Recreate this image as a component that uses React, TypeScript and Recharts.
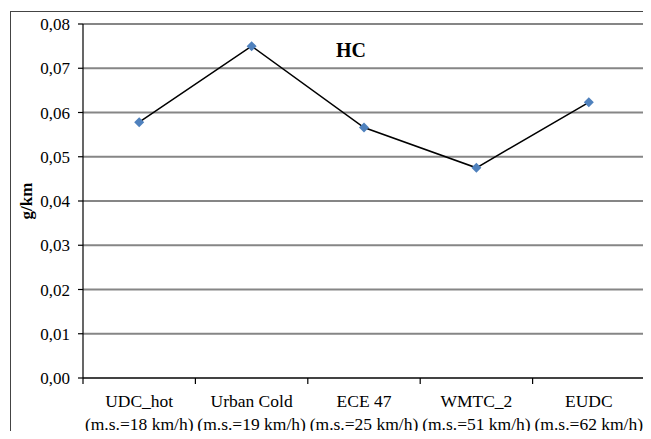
import React from 'react';
import { LineChart, Line, XAxis, YAxis, CartesianGrid } from 'recharts';

const categories = ['UDC_hot', 'Urban Cold', 'ECE 47', 'WMTC_2', 'EUDC'];
const speeds = ['(m.s.=18 km/h)', '(m.s.=19 km/h)', '(m.s.=25 km/h)', '(m.s.=51 km/h)', '(m.s.=62 km/h)'];
const hcValues = [0.0578, 0.075, 0.0566, 0.0475, 0.0623];
const yTicks = [0, 0.01, 0.02, 0.03, 0.04, 0.05, 0.06, 0.07, 0.08];

const data = categories.map((name, i) => ({ name, speed: speeds[i], hc: hcValues[i] }));

const W = 651;
const H = 439;
const MARGIN = { top: 24, right: 6, bottom: 0, left: 13 };
const Y_AXIS_W = 70;
// width of one category band, used to put x tick marks between categories
const BAND = (W - MARGIN.left - MARGIN.right - Y_AXIS_W) / categories.length;

const FONT = '"Liberation Serif", "Times New Roman", serif';
const GRID = '#868686';

const fmtComma = (v: number) => v.toFixed(2).replace('.', ',');

function CategoryTick(props: any) {
  const { x, y, payload, index } = props;
  const left = x - BAND / 2;
  const right = x + BAND / 2;
  return (
    <g>
      <line x1={left} y1={y} x2={left} y2={y + 6} stroke="#000" strokeWidth={1.2} />
      {index === categories.length - 1 && (
        <line x1={right} y1={y} x2={right} y2={y + 6} stroke="#000" strokeWidth={1.2} />
      )}
      <text x={x} y={y} textAnchor="middle" style={{ fontFamily: FONT }} fontSize={17.5} fill="#000">
        <tspan x={x} dy={29}>{payload.value}</tspan>
        <tspan x={x} dy={23}>{speeds[index]}</tspan>
      </text>
    </g>
  );
}

function Diamond(props: any) {
  const { cx, cy } = props;
  if (cx == null || cy == null) return null;
  const r = 5;
  return (
    <polygon
      points={`${cx},${cy - r} ${cx + r},${cy} ${cx},${cy + r} ${cx - r},${cy}`}
      fill="#4f81bd"
    />
  );
}

function YTitle(props: any) {
  const { viewBox } = props;
  const x = viewBox.x + 13;
  const y = viewBox.y + viewBox.height / 2;
  return (
    <text
      x={x}
      y={y}
      transform={`rotate(-90 ${x} ${y})`}
      textAnchor="middle"
      dominantBaseline="central"
      style={{ fontFamily: FONT }}
      fontSize={17}
      fontWeight="bold"
      fill="#000"
    >
      g/km
    </text>
  );
}

export default function App() {
  return (
    <div style={{ position: 'relative', width: W, height: H, margin: -8, overflow: 'hidden', background: '#fff', fontFamily: FONT }}>
      <div
        style={{
          position: 'absolute',
          left: 10,
          top: 11,
          width: 700,
          height: 500,
          borderLeft: '1.5px solid #444',
          borderTop: '1.5px solid #444',
        }}
      />
      <div style={{ position: 'absolute', left: 0, top: 0 }}>
        <LineChart width={W} height={H} data={data} margin={MARGIN}>
          <CartesianGrid vertical={false} stroke={GRID} strokeWidth={2} />
          <XAxis
            dataKey="name"
            scale="band"
            height={61}
            tickSize={0}
            tickMargin={0}
            tickLine={false}
            interval={0}
            axisLine={{ stroke: '#000', strokeWidth: 1.2 }}
            tick={<CategoryTick />}
          />
          <YAxis
            width={Y_AXIS_W}
            domain={[0, 0.08]}
            ticks={yTicks}
            tickFormatter={fmtComma}
            tickSize={5}
            tickMargin={8}
            tick={{ fill: '#000', fontSize: 17, style: { fontFamily: FONT } }}
            tickLine={{ stroke: '#000', strokeWidth: 1.2 }}
            axisLine={{ stroke: '#000', strokeWidth: 1.2 }}
            label={<YTitle />}
          />
          <YAxis
            yAxisId="frame"
            orientation="right"
            width={0}
            domain={[0, 0.08]}
            tick={false}
            tickLine={false}
            axisLine={{ stroke: GRID, strokeWidth: 2 }}
          />
          <Line
            type="linear"
            dataKey="hc"
            stroke="#000"
            strokeWidth={1.5}
            dot={<Diamond />}
            activeDot={false}
            isAnimationActive={false}
          />
        </LineChart>
      </div>
      <div
        style={{
          position: 'absolute',
          left: 351,
          top: 50,
          transform: 'translate(-50%, -50%)',
          fontSize: 20,
          fontWeight: 'bold',
          color: '#000',
        }}
      >
        HC
      </div>
    </div>
  );
}
